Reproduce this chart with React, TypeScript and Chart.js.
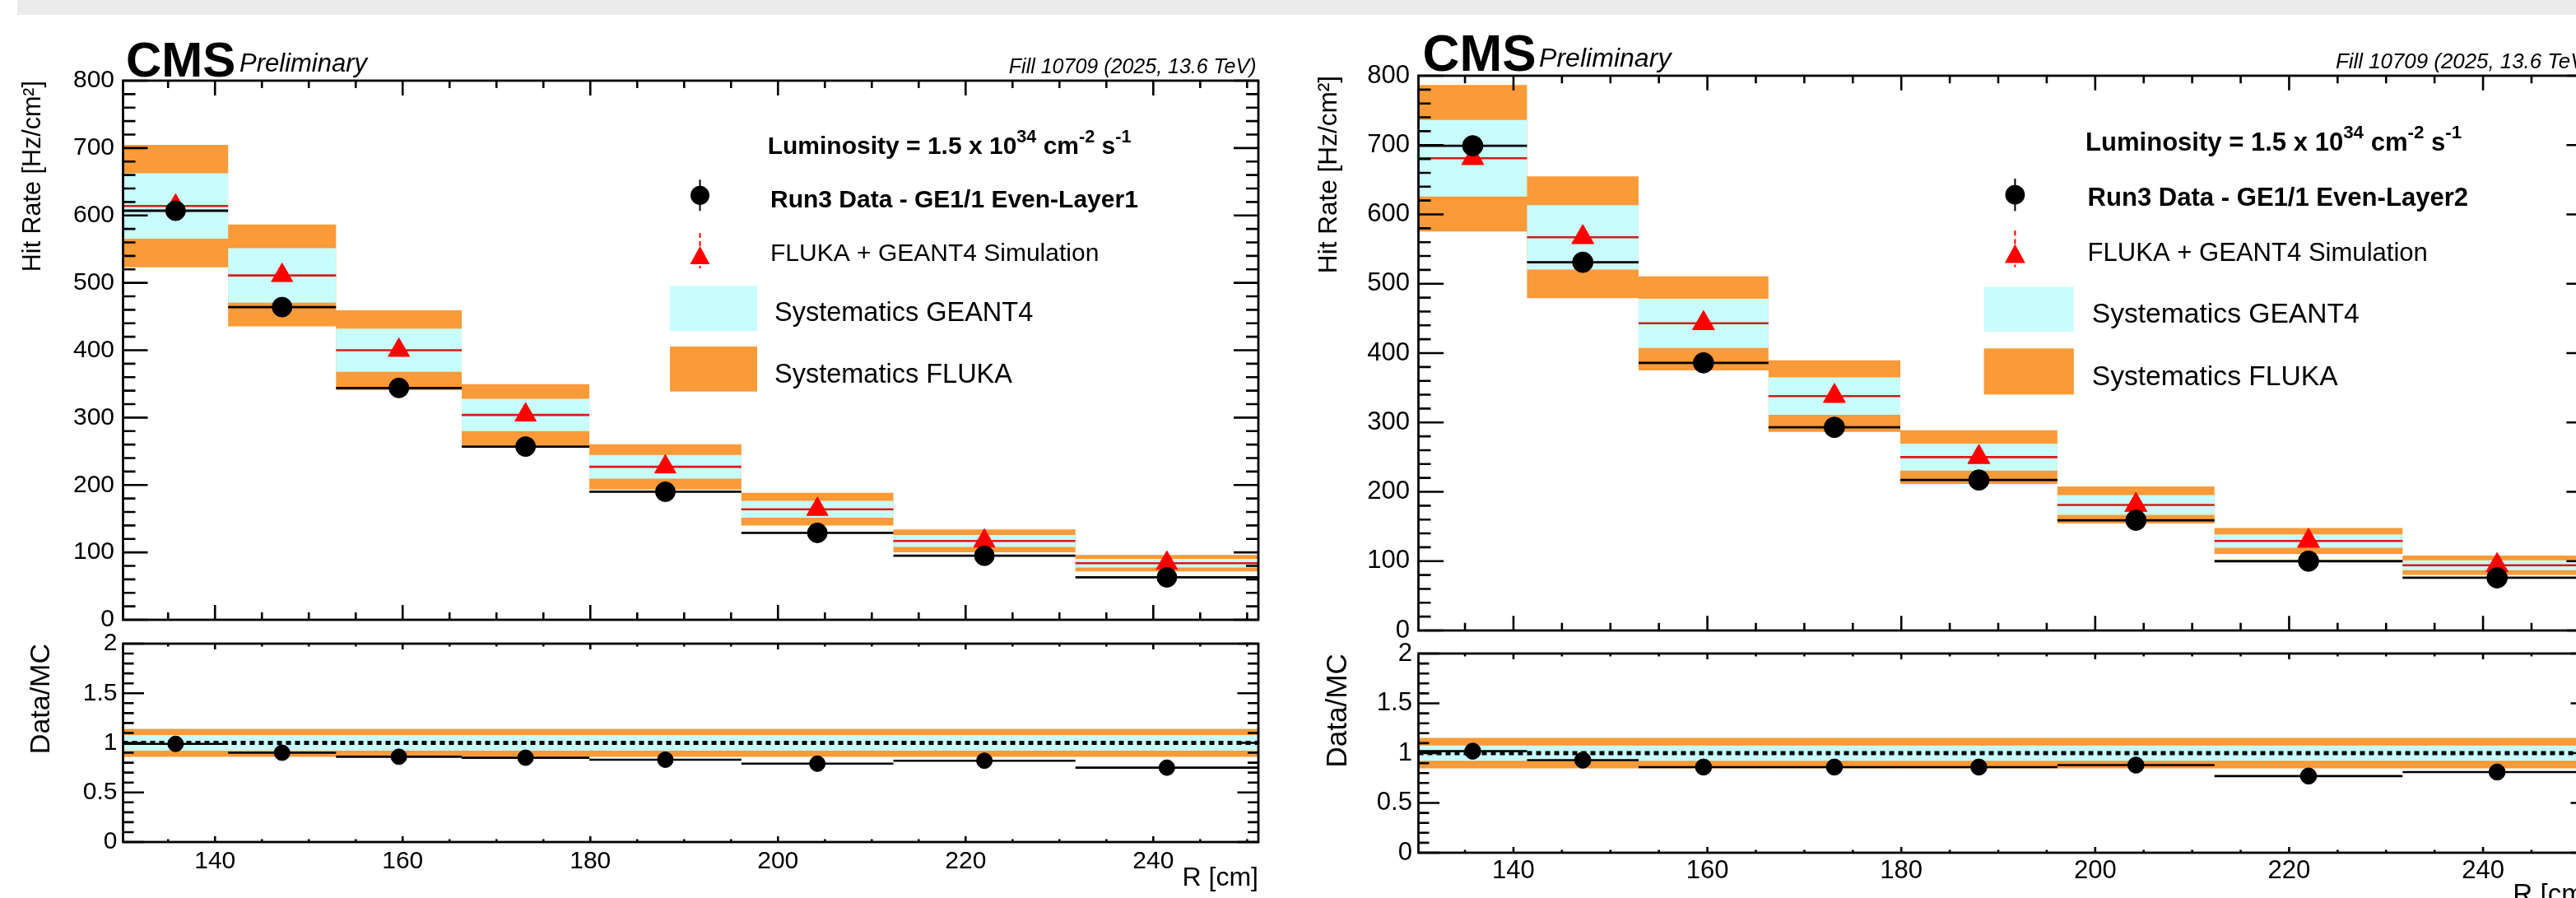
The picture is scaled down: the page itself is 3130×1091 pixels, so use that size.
import React, { useEffect, useRef } from 'react';
import { Chart, registerables } from 'chart.js';

Chart.register(...registerables);

const FONT = '"Liberation Sans", Arial, Helvetica, sans-serif';

// ---------------- data ----------------
const binEdges = [130.2, 141.4, 152.9, 166.3, 179.9, 196.1, 212.3, 231.7, 251.2];
const xTickLabels = [140, 160, 180, 200, 220, 240];
const mainYTickLabels = [0, 100, 200, 300, 400, 500, 600, 700, 800];
const ratioYTickLabels = [0, 0.5, 1, 1.5, 2];

// GE1/1 Even - Layer 1
const layer1Data = [607, 464, 344, 257, 190, 129, 95, 63];
const layer1Sim = [614, 511, 400, 304, 227, 164, 117, 84];
const layer1Ratio = [0.99, 0.9, 0.86, 0.85, 0.83, 0.79, 0.82, 0.75];
const layer1FlukaSyst = [0.148, 0.148, 0.148, 0.15, 0.148, 0.148, 0.145, 0.145];
const layer1Geant4Syst = [0.079, 0.079, 0.08, 0.079, 0.077, 0.077, 0.075, 0.075];
const layer1RatioFlukaBand = 0.142;
const layer1RatioGeant4Band = 0.079;

// GE1/1 Even - Layer 2
const layer2Data = [699, 531, 386, 293, 217, 159, 100, 76];
const layer2Sim = [681, 567, 443, 338, 250, 181, 129, 94];
const layer2Ratio = [1.02, 0.93, 0.86, 0.86, 0.86, 0.88, 0.77, 0.81];
const layer2FlukaSyst = [0.155, 0.155, 0.153, 0.153, 0.155, 0.148, 0.145, 0.148];
const layer2Geant4Syst = [0.081, 0.082, 0.08, 0.08, 0.078, 0.078, 0.075, 0.075];
const layer2RatioFlukaBand = 0.152;
const layer2RatioGeant4Band = 0.077;

// ---------------- styles ----------------
const CYAN = '#c9fcfc';
const ORANGE = '#fa9a38';
const RED = '#ff0000';
const RED_LINE = '#d81a1a';

function range(a: number, b: number, step: number): number[] {
  const out: number[] = [];
  const n = Math.round((b - a) / step);
  for (let i = 0; i <= n; i++) out.push(+(a + i * step).toFixed(6));
  return out;
}
const xMinorTicks = range(135, 250, 5).filter((v) => !xTickLabels.includes(v));
const mainYMinor = range(0, 800, 20).filter((v) => v % 100 !== 0);
const ratioYMinor = range(0, 2, 0.1).filter((v) => !ratioYTickLabels.some((t) => Math.abs(t - v) < 1e-6));

const xMin = binEdges[0];
const xMax = binEdges[binEdges.length - 1];
const centers = binEdges.slice(0, -1).map((e, i) => (e + binEdges[i + 1]) / 2);
const stepPts = (vals: number[]) => [
  ...vals.map((v, i) => ({ x: binEdges[i], y: v })),
  { x: xMax, y: vals[vals.length - 1] },
];
const xErrPts = (vals: number[]) =>
  vals.flatMap((v, i) => [
    { x: binEdges[i], y: v },
    { x: binEdges[i + 1], y: v },
    { x: binEdges[i + 1], y: null as any },
  ]);

type Geom = {
  s: number; cLeft: number; cWidth: number; plotLeft: number; plotRight: number;
  mainTop: number; mainH: number; mainPlotTop: number; mainPlotBottom: number;
  ratioTop: number; ratioH: number; ratioPlotTop: number; ratioPlotBottom: number;
  yTickPad: number; ratioYTickPad: number; xTickPad: number; xTitlePad: number;
  yTitlePad: number; ratioTitlePad: number;
  yMaj: number; yMin: number; xMaj: number; xMin: number;
  rYMaj: number; rYMin: number; rXMaj: number; rXMin: number;
};

type Ann = {
  cmsX: number; cmsY: number; prelimX: number; prelimY: number; fillR: number; fillY: number;
  lumiX: number; lumiY: number; mkX: number; dataMkY: number; txtX: number; dataTxtY: number;
  simMkY: number; simTxtY: number; boxX0: number; boxX1: number; cyanY0: number; cyanY1: number;
  systX: number; geantY: number; orangeY0: number; orangeY1: number; flukaY: number;
};

type Panel = {
  data: number[]; sim: number[]; ratio: number[]; fluka: number[]; geant: number[];
  rFluka: number; rGeant: number; label: string; g: Geom; a: Ann;
};

const leftPanel: Panel = {
  data: layer1Data, sim: layer1Sim, ratio: layer1Ratio, fluka: layer1FlukaSyst, geant: layer1Geant4Syst,
  rFluka: layer1RatioFlukaBand, rGeant: layer1RatioGeant4Band,
  label: 'Run3 Data - GE1/1 Even-Layer1',
  g: {
    s: 1, cLeft: 0, cWidth: 1570, plotLeft: 149.5, plotRight: 1529,
    mainTop: 20, mainH: 800, mainPlotTop: 98, mainPlotBottom: 753,
    ratioTop: 755, ratioH: 355, ratioPlotTop: 782, ratioPlotBottom: 1023,
    yTickPad: 10.5, ratioYTickPad: 7, xTickPad: 6, xTitlePad: 24,
    yTitlePad: 22, ratioTitlePad: 30,
    yMaj: 30, yMin: 15, xMaj: 18, xMin: 9, rYMaj: 25.5, rYMin: 13, rXMaj: 7, rXMin: 3.5,
  },
  a: {
    cmsX: 153, cmsY: 93.3, prelimX: 291, prelimY: 87.3, fillR: 1526.5, fillY: 89.3,
    lumiX: 932.7, lumiY: 186.7, mkX: 850.5, dataMkY: 237.3, txtX: 936, dataTxtY: 251.7,
    simMkY: 310, simTxtY: 316.7, boxX0: 814, boxX1: 920, cyanY0: 347.3, cyanY1: 402.3,
    systX: 941, geantY: 390, orangeY0: 421, orangeY1: 475.7, flukaY: 465,
  },
};

const rightPanel: Panel = {
  data: layer2Data, sim: layer2Sim, ratio: layer2Ratio, fluka: layer2FlukaSyst, geant: layer2Geant4Syst,
  rFluka: layer2RatioFlukaBand, rGeant: layer2RatioGeant4Band,
  label: 'Run3 Data - GE1/1 Even-Layer2',
  g: {
    s: 1.035, cLeft: 1570, cWidth: 1600, plotLeft: 1723.5, plotRight: 3149,
    mainTop: 20, mainH: 800, mainPlotTop: 92, mainPlotBottom: 766,
    ratioTop: 760, ratioH: 360, ratioPlotTop: 794, ratioPlotBottom: 1036,
    yTickPad: 10.5, ratioYTickPad: 7.5, xTickPad: 3.4, xTitlePad: 12,
    yTitlePad: 26.5, ratioTitlePad: 35,
    yMaj: 30.6, yMin: 15, xMaj: 17.7, xMin: 9.3, rYMaj: 25.5, rYMin: 13, rXMaj: 7, rXMin: 3.5,
  },
  a: {
    cmsX: 1728.6, cmsY: 86, prelimX: 1870, prelimY: 80.5, fillR: 3149, fillY: 83.3,
    lumiX: 2534, lumiY: 182.7, mkX: 2448.4, dataMkY: 236.7, txtX: 2536.6, dataTxtY: 250,
    simMkY: 308, simTxtY: 316.7, boxX0: 2410.6, boxX1: 2519.8, cyanY0: 348.3, cyanY1: 403.3,
    systX: 2541.7, geantY: 391.7, orangeY0: 423.3, orangeY1: 479.3, flukaY: 468.3,
  },
};

// ---------------- plugins ----------------
function framePlugin(o: {
  yMajor: number[]; yMinor: number[]; yMaj: number; yMin: number; xMaj: number; xMin: number;
}) {
  return {
    id: 'rootFrame',
    afterDatasetsDraw(chart: any) {
      const { ctx, chartArea: a, scales } = chart;
      const x = scales.x;
      const y = scales.y;
      ctx.save();
      ctx.strokeStyle = '#000';
      ctx.lineCap = 'butt';
      ctx.lineWidth = 2.6;
      ctx.beginPath();
      const yTick = (v: number, len: number) => {
        const py = y.getPixelForValue(v);
        ctx.moveTo(a.left, py); ctx.lineTo(a.left + len, py);
        ctx.moveTo(a.right, py); ctx.lineTo(a.right - len, py);
      };
      const xTick = (v: number, len: number) => {
        const px = x.getPixelForValue(v);
        ctx.moveTo(px, a.bottom); ctx.lineTo(px, a.bottom - len);
        ctx.moveTo(px, a.top); ctx.lineTo(px, a.top + len);
      };
      o.yMajor.forEach((v) => yTick(v, o.yMaj));
      o.yMinor.forEach((v) => yTick(v, o.yMin));
      xTickLabels.forEach((v) => xTick(v, o.xMaj));
      xMinorTicks.forEach((v) => xTick(v, o.xMin));
      ctx.stroke();
      ctx.lineWidth = 2.8;
      ctx.strokeRect(a.left, a.top, a.right - a.left, a.bottom - a.top);
      ctx.restore();
    },
  };
}

function drawRich(ctx: CanvasRenderingContext2D, x: number, y: number, segs: [string, boolean][], size: number, weight: string) {
  let cx = x;
  for (const [t, sup] of segs) {
    const fs = sup ? size * 0.72 : size;
    ctx.font = `${weight} ${fs}px ${FONT}`;
    ctx.fillText(t, cx, sup ? y - size * 0.46 : y);
    cx += ctx.measureText(t).width;
  }
}

function annotPlugin(p: Panel) {
  return {
    id: 'annot',
    afterDraw(chart: any) {
      const ctx: CanvasRenderingContext2D = chart.ctx;
      const { a, g } = p;
      const s = g.s;
      const X = (v: number) => v - g.cLeft;
      const Y = (v: number) => v - g.mainTop;
      ctx.save();
      ctx.fillStyle = '#000';
      ctx.textBaseline = 'alphabetic';
      ctx.textAlign = 'left';
      ctx.font = `bold ${60 * s}px ${FONT}`;
      ctx.fillText('CMS', X(a.cmsX), Y(a.cmsY));
      ctx.font = `italic ${31 * s}px ${FONT}`;
      ctx.fillText('Preliminary', X(a.prelimX), Y(a.prelimY));
      ctx.textAlign = 'right';
      ctx.font = `italic ${25 * s}px ${FONT}`;
      ctx.fillText('Fill 10709 (2025, 13.6 TeV)', X(a.fillR), Y(a.fillY));
      ctx.textAlign = 'left';

      drawRich(ctx, X(a.lumiX), Y(a.lumiY), [
        ['Luminosity = 1.5 x 10', false], ['34', true], [' cm', false], ['-2', true], [' s', false], ['-1', true],
      ], 30 * s, 'bold');

      // data legend marker
      ctx.strokeStyle = '#000';
      ctx.lineWidth = 2 * s;
      ctx.beginPath();
      ctx.moveTo(X(a.mkX), Y(a.dataMkY - 19 * s));
      ctx.lineTo(X(a.mkX), Y(a.dataMkY + 19 * s));
      ctx.stroke();
      ctx.beginPath();
      ctx.arc(X(a.mkX), Y(a.dataMkY), 11.5 * s, 0, Math.PI * 2);
      ctx.fill();
      ctx.font = `bold ${30 * s}px ${FONT}`;
      ctx.fillText(p.label, X(a.txtX), Y(a.dataTxtY));

      // sim legend marker
      ctx.strokeStyle = RED;
      ctx.setLineDash([6 * s, 4 * s]);
      ctx.beginPath();
      ctx.moveTo(X(a.mkX), Y(a.simMkY - 27 * s));
      ctx.lineTo(X(a.mkX), Y(a.simMkY + 16 * s));
      ctx.stroke();
      ctx.setLineDash([]);
      ctx.fillStyle = RED;
      ctx.beginPath();
      ctx.moveTo(X(a.mkX), Y(a.simMkY - 11 * s));
      ctx.lineTo(X(a.mkX + 12 * s), Y(a.simMkY + 11 * s));
      ctx.lineTo(X(a.mkX - 12 * s), Y(a.simMkY + 11 * s));
      ctx.closePath();
      ctx.fill();
      ctx.fillStyle = '#000';
      ctx.font = `${30 * s}px ${FONT}`;
      ctx.fillText('FLUKA + GEANT4 Simulation', X(a.txtX), Y(a.simTxtY));

      // boxes
      ctx.fillStyle = CYAN;
      ctx.fillRect(X(a.boxX0), Y(a.cyanY0), a.boxX1 - a.boxX0, a.cyanY1 - a.cyanY0);
      ctx.fillStyle = ORANGE;
      ctx.fillRect(X(a.boxX0), Y(a.orangeY0), a.boxX1 - a.boxX0, a.orangeY1 - a.orangeY0);
      ctx.fillStyle = '#000';
      ctx.font = `${32.5 * s}px ${FONT}`;
      ctx.fillText('Systematics GEANT4', X(a.systX), Y(a.geantY));
      ctx.fillText('Systematics FLUKA', X(a.systX), Y(a.flukaY));
      ctx.restore();
    },
  };
}

const hidden = { borderColor: 'transparent', borderWidth: 0, pointRadius: 0 };

function xScale(g: Geom, height: number, showLabels: boolean, titleOn: boolean) {
  return {
    type: 'linear',
    min: xMin,
    max: xMax,
    grid: { display: false, drawTicks: false },
    border: { display: false },
    afterBuildTicks: (ax: any) => { ax.ticks = xTickLabels.map((v) => ({ value: v })); },
    afterFit: (sc: any) => { sc.height = height; },
    ticks: {
      display: showLabels,
      padding: g.xTickPad,
      color: '#000',
      font: { family: FONT, size: 30 * g.s },
      maxRotation: 0,
      autoSkip: false,
      callback: (v: any) => String(v),
    },
    title: {
      display: titleOn,
      text: 'R [cm]',
      align: 'end',
      color: '#000',
      font: { family: FONT, size: 32 * g.s },
      padding: { top: 0, bottom: g.xTitlePad },
    },
  };
}

function yScale(g: Geom, min: number, max: number, ticks: number[], pad: number, title: string, titleSize: number, titlePad: number) {
  return {
    type: 'linear',
    min,
    max,
    grid: { display: false, drawTicks: false },
    border: { display: false },
    afterBuildTicks: (ax: any) => { ax.ticks = ticks.map((v) => ({ value: v })); },
    afterFit: (sc: any) => { sc.width = g.plotLeft - g.cLeft; },
    ticks: {
      padding: pad,
      color: '#000',
      font: { family: FONT, size: 30 * g.s },
      autoSkip: false,
      callback: (v: any) => String(v),
    },
    title: {
      display: true,
      text: title,
      align: 'end',
      color: '#000',
      font: { family: FONT, size: titleSize * g.s },
      padding: { top: titlePad, bottom: 0 },
    },
  };
}

function mainConfig(p: Panel): any {
  const g = p.g;
  const s = g.s;
  const flukaUp = p.sim.map((v, i) => v * (1 + p.fluka[i]));
  const flukaLo = p.sim.map((v, i) => v * (1 - p.fluka[i]));
  const geantUp = p.sim.map((v, i) => v * (1 + p.geant[i]));
  const geantLo = p.sim.map((v, i) => v * (1 - p.geant[i]));
  return {
    type: 'line',
    data: {
      datasets: [
        {
          label: 'Run3 Data', data: centers.map((x, i) => ({ x, y: p.data[i] })), showLine: false,
          pointStyle: 'circle', pointRadius: 12 * s, pointBackgroundColor: '#000', pointBorderColor: '#000', pointBorderWidth: 1, order: 0,
        },
        {
          label: 'FLUKA + GEANT4 Simulation', data: centers.map((x, i) => ({ x, y: p.sim[i] })), showLine: false,
          pointStyle: 'triangle', pointRadius: 15 * s, pointBackgroundColor: RED, pointBorderColor: RED, pointBorderWidth: 1, order: 1,
        },
        { label: 'data bins', data: xErrPts(p.data), borderColor: '#000', borderWidth: 2.8, pointRadius: 0, spanGaps: false, order: 2 },
        { label: 'sim bins', data: xErrPts(p.sim), borderColor: RED_LINE, borderWidth: 2.6, pointRadius: 0, spanGaps: false, order: 3 },
        { label: 'GEANT4 up', data: stepPts(geantUp), stepped: true, ...hidden, fill: 5, backgroundColor: CYAN, order: 4 },
        { label: 'GEANT4 lo', data: stepPts(geantLo), stepped: true, ...hidden, fill: false, order: 5 },
        { label: 'FLUKA up', data: stepPts(flukaUp), stepped: true, ...hidden, fill: 7, backgroundColor: ORANGE, order: 6 },
        { label: 'FLUKA lo', data: stepPts(flukaLo), stepped: true, ...hidden, fill: false, order: 7 },
      ],
    },
    options: {
      responsive: false,
      animation: false,
      devicePixelRatio: 1,
      events: [],
      layout: { padding: { left: 0, top: g.mainPlotTop - g.mainTop, right: g.cLeft + g.cWidth - g.plotRight, bottom: 0 } },
      plugins: { legend: { display: false }, tooltip: { enabled: false } },
      scales: {
        x: xScale(g, g.mainTop + g.mainH - g.mainPlotBottom, false, false),
        y: yScale(g, 0, 800, mainYTickLabels, g.yTickPad, 'Hit Rate [Hz/cm\u00B2]', 30.5, g.yTitlePad),
      },
    },
    plugins: [
      framePlugin({ yMajor: mainYTickLabels, yMinor: mainYMinor, yMaj: g.yMaj, yMin: g.yMin, xMaj: g.xMaj, xMin: g.xMin }),
      annotPlugin(p),
    ],
  };
}

function ratioConfig(p: Panel): any {
  const g = p.g;
  const s = g.s;
  const flat = (v: number) => [{ x: xMin, y: v }, { x: xMax, y: v }];
  return {
    type: 'line',
    data: {
      datasets: [
        {
          label: 'Data/MC', data: centers.map((x, i) => ({ x, y: p.ratio[i] })), showLine: false,
          pointStyle: 'circle', pointRadius: 9.5 * s, pointBackgroundColor: '#000', pointBorderColor: '#000', pointBorderWidth: 1, order: 0,
        },
        { label: 'ratio bins', data: xErrPts(p.ratio), borderColor: '#000', borderWidth: 2.6, pointRadius: 0, spanGaps: false, order: 1 },
        { label: 'unity', data: flat(1), borderColor: '#000', borderWidth: 5, borderDash: [6, 5], pointRadius: 0, order: 2 },
        { label: 'GEANT4 up', data: flat(1 + p.rGeant), ...hidden, fill: 4, backgroundColor: CYAN, order: 3 },
        { label: 'GEANT4 lo', data: flat(1 - p.rGeant), ...hidden, fill: false, order: 4 },
        { label: 'FLUKA up', data: flat(1 + p.rFluka), ...hidden, fill: 6, backgroundColor: ORANGE, order: 5 },
        { label: 'FLUKA lo', data: flat(1 - p.rFluka), ...hidden, fill: false, order: 6 },
      ],
    },
    options: {
      responsive: false,
      animation: false,
      devicePixelRatio: 1,
      events: [],
      layout: { padding: { left: 0, top: g.ratioPlotTop - g.ratioTop, right: g.cLeft + g.cWidth - g.plotRight, bottom: 0 } },
      plugins: { legend: { display: false }, tooltip: { enabled: false } },
      scales: {
        x: xScale(g, g.ratioTop + g.ratioH - g.ratioPlotBottom, true, true),
        y: yScale(g, 0, 2, ratioYTickLabels, g.ratioYTickPad, 'Data/MC', 34, g.ratioTitlePad),
      },
    },
    plugins: [
      framePlugin({ yMajor: ratioYTickLabels, yMinor: ratioYMinor, yMaj: g.rYMaj, yMin: g.rYMin, xMaj: g.rXMaj, xMin: g.rXMin }),
    ],
  };
}

function ChartCanvas(props: { build: () => any; left: number; top: number; width: number; height: number }) {
  const ref = useRef<HTMLCanvasElement>(null);
  useEffect(() => {
    const chart = new Chart(ref.current as HTMLCanvasElement, props.build());
    return () => chart.destroy();
  }, []);
  const { left, top, width, height } = props;
  return (
    <canvas
      ref={ref}
      width={width}
      height={height}
      style={{ position: 'absolute', left, top, width, height, display: 'block' }}
    />
  );
}

export default function App() {
  const L = leftPanel.g;
  const R = rightPanel.g;
  return (
    <div style={{ position: 'fixed', left: 0, top: 0, width: 3130, height: 1091, overflow: 'hidden', background: '#fff' }}>
      <div style={{ position: 'absolute', left: 21, top: 0, width: 3109, height: 18, background: '#ebebeb' }} />
      <ChartCanvas build={() => mainConfig(leftPanel)} left={L.cLeft} top={L.mainTop} width={L.cWidth} height={L.mainH} />
      <ChartCanvas build={() => ratioConfig(leftPanel)} left={L.cLeft} top={L.ratioTop} width={L.cWidth} height={L.ratioH} />
      <ChartCanvas build={() => mainConfig(rightPanel)} left={R.cLeft} top={R.mainTop} width={R.cWidth} height={R.mainH} />
      <ChartCanvas build={() => ratioConfig(rightPanel)} left={R.cLeft} top={R.ratioTop} width={R.cWidth} height={R.ratioH} />
    </div>
  );
}
